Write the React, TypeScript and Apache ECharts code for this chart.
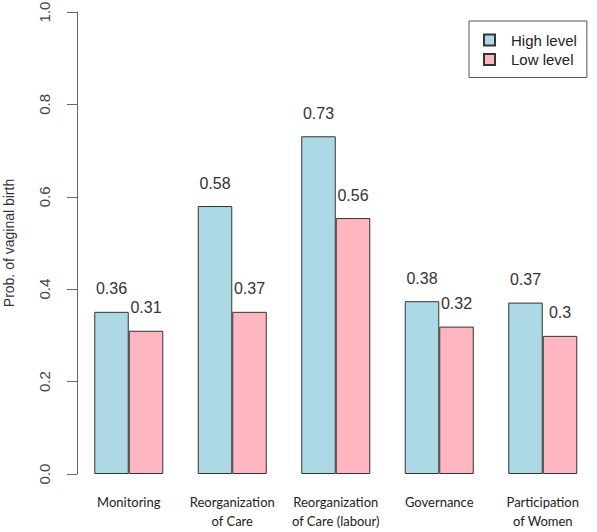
import React, { useEffect, useRef } from "react";
import * as echarts from "echarts";

const categories = [
  "Monitoring",
  "Reorganization\nof Care",
  "Reorganization\nof Care (labour)",
  "Governance",
  "Participation\nof Women",
];
const highValues = [0.351, 0.58, 0.731, 0.374, 0.371];
const lowValues = [0.31, 0.351, 0.554, 0.319, 0.299];
const highLabels = ["0.36", "0.58", "0.73", "0.38", "0.37"];
const lowLabels = ["0.31", "0.37", "0.56", "0.32", "0.3"];
const seriesNames = ["High level", "Low level"];

const FONT = "'Liberation Sans', Arial, Helvetica, sans-serif";

export default function App() {
  const ref = useRef<HTMLDivElement>(null);
  useEffect(() => {
    if (!ref.current) return;
    const chart = echarts.init(ref.current, undefined, { renderer: "svg" });
    const barLabel = (labels: string[]) => ({
      show: true,
      position: "top" as const,
      distance: 15,
      fontFamily: FONT,
      fontSize: 16,
      color: "#333",
      formatter: (p: any) => labels[p.dataIndex],
    });
    chart.setOption({
      animation: false,
      backgroundColor: "#fff",
      grid: {
        left: 77,
        right: 2.5,
        top: 12,
        bottom: 58,
        containLabel: false,
        outerBoundsMode: "none",
      },
      legend: {
        orient: "vertical",
        left: 469,
        top: 21,
        data: seriesNames,
        icon: "rect",
        itemWidth: 11,
        itemHeight: 11,
        itemGap: 3.5,
        padding: [11, 10, 10, 14],
        borderColor: "#555",
        borderWidth: 1,
        borderRadius: 0,
        textStyle: {
          fontFamily: FONT,
          fontSize: 15,
          color: "#222",
          lineHeight: 16,
          padding: [0, 0, 0, 11],
        },
      },
      xAxis: {
        type: "category",
        data: categories,
        axisLine: { show: false },
        axisTick: { show: false },
        axisLabel: {
          interval: 0,
          margin: 18,
          fontFamily: "Lato, 'Open Sans', sans-serif",
          fontSize: 13,
          lineHeight: 19,
          color: "#222",
        },
      },
      yAxis: {
        type: "value",
        min: 0,
        max: 1,
        interval: 0.2,
        name: "Prob. of vaginal birth",
        nameLocation: "middle",
        nameRotate: 90,
        nameGap: 61,
        nameTextStyle: { fontFamily: FONT, fontSize: 14, color: "#333" },
        axisLine: { show: true, lineStyle: { color: "#666", width: 1 } },
        axisTick: { show: true, length: 10, inside: false, lineStyle: { color: "#666" } },
        splitLine: { show: false },
        axisLabel: {
          rotate: 90,
          margin: 25,
          fontFamily: FONT,
          fontSize: 15,
          color: "#444",
          formatter: (v: number) => v.toFixed(1),
        },
      },
      series: [
        {
          name: seriesNames[0],
          type: "bar",
          data: highValues,
          barWidth: 34.5,
          barGap: "0%",
          itemStyle: { color: "#ADD8E6", borderColor: "#333", borderWidth: 1 },
          label: barLabel(highLabels),
        },
        {
          name: seriesNames[1],
          type: "bar",
          data: lowValues,
          barWidth: 34.5,
          barGap: "0%",
          itemStyle: { color: "#FFB6C1", borderColor: "#333", borderWidth: 1 },
          label: barLabel(lowLabels),
        },
      ],
    });
    return () => chart.dispose();
  }, []);
  return <div ref={ref} style={{ width: 597, height: 532, position: "absolute", left: 0, top: 0 }} />;
}
